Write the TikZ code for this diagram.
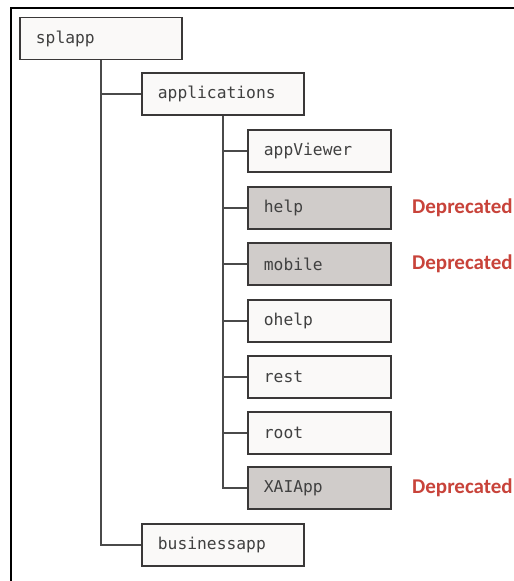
\documentclass[tikz,border=0pt]{standalone}
\usepackage{fontspec}
\newfontfamily\boxfont{DejaVu Sans Mono}
\newfontfamily\tagfont{Carlito}
\definecolor{boxline}{HTML}{3A3838}
\definecolor{boxwhite}{HTML}{FAF9F8}
\definecolor{boxgray}{HTML}{D0CCCA}
\definecolor{deptext}{HTML}{C8433A}
\definecolor{linkgray}{HTML}{4A4A4A}
\tikzset{
  dirbox/.style={draw=boxline, line width=1.8pt, rectangle, anchor=west,
    minimum height=42pt, inner ysep=0pt, inner xsep=16pt, align=left,
    font=\boxfont\fontsize{16.3}{19}\selectfont, text=black!75},
  wide/.style={text width=130pt},
  narrow/.style={text width=111pt},
  deptag/.style={anchor=west, inner sep=0pt, text=deptext,
    font=\tagfont\bfseries\fontsize{21}{23}\selectfont},
  link/.style={draw=linkgray, line width=1.6pt}
}
\begin{document}
\begin{tikzpicture}[x=1pt, y=-1pt]
\useasboundingbox (0,0) rectangle (514,581);
% frame
\draw[line width=2.6pt, black] (11,581) -- (11,8) -- (514,8);
% top levels
\node[dirbox, wide, fill=boxwhite] (splapp) at (19,38.5) {splapp};
\node[dirbox, wide, fill=boxwhite] (applications) at (141,94) {applications};
\node[dirbox, wide, fill=boxwhite] (businessapp) at (141,545) {businessapp};
\draw[link] (splapp.south) |- (businessapp.west);
\draw[link] (splapp.south |- applications.west) -- (applications.west);
% children of applications
\foreach \nm/\txt/\col/\y in {appviewer/appViewer/boxwhite/151,help/help/boxgray/208,mobile/mobile/boxgray/264,ohelp/ohelp/boxwhite/321,rest/rest/boxwhite/377,root/root/boxwhite/433,xaiapp/XAIApp/boxgray/488} {
  \node[dirbox, narrow, fill=\col] (\nm) at (247,\y) {\txt};
  \draw[link] (applications.south) |- (\nm.west);
}
% deprecated folders
\foreach \nm in {help,mobile,xaiapp}
  \node[deptag] (dep-\nm) at (412,0 |- \nm.west) {Deprecated};
\end{tikzpicture}
\end{document}
